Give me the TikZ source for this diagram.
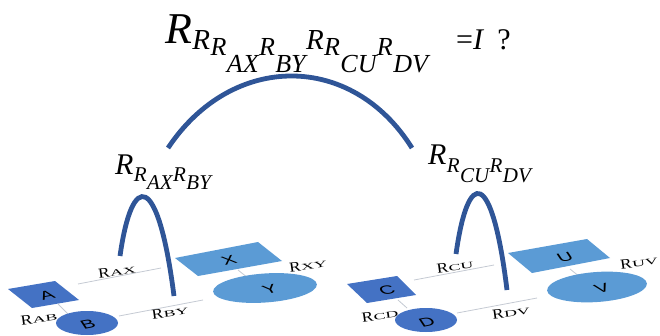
\documentclass[tikz,border=0pt]{standalone}
\usepackage{graphicx}
\usepackage{fontspec}
\setmainfont{Liberation Serif}
\newfontfamily\lsans{Liberation Sans}
\definecolor{arccol}{HTML}{2F5597}
\definecolor{dkcol}{HTML}{4472C4}
\definecolor{ltcol}{HTML}{5B9BD5}
\definecolor{lncol}{HTML}{C5CAD3}
\newcommand\Rlb[1]{\scalebox{1.25}[1]{R\scalebox{1.6}[1]{\fontsize{9}{9}\selectfont #1}}}
\begin{document}
\begin{tikzpicture}[x=1pt,y=-1pt,
  arcline/.style={draw=arccol, line width=4.8pt},
  relline/.style={draw=lncol, line width=0.8pt},
  rlab/.style={font=\fontsize{14}{14}\selectfont, inner sep=0pt, rotate=8},
  tt/.style={inner sep=0pt, anchor=base west},
  big/.style={tt, font=\fontsize{44}{44}\selectfont\itshape},
  sub/.style={tt, font=\fontsize{29}{29}\selectfont\itshape},
  subb/.style={tt, font=\fontsize{26}{26}\selectfont\itshape},
  mid/.style={tt, font=\fontsize{30}{30}\selectfont\itshape},
  msub/.style={tt, font=\fontsize{21}{21}\selectfont\itshape},
  letter/.style={font=\lsans\fontsize{19}{19}\selectfont, inner sep=0pt, cm={1.05,0.2,-0.4,0.6,(0,0)}}
]
\useasboundingbox (0,0) rectangle (660,336);

% relation lines
\coordinate (ax1) at (78,284);  \coordinate (ax2) at (161,268);
\coordinate (by1) at (119,316); \coordinate (by2) at (203,300);
\coordinate (ab1) at (58,304);  \coordinate (ab2) at (68,314);
\coordinate (xy1) at (238,270); \coordinate (xy2) at (248,278);
\coordinate (cu1) at (414,280); \coordinate (cu2) at (494,265);
\coordinate (dv1) at (457,313); \coordinate (dv2) at (537,298);
\coordinate (cd1) at (398,300); \coordinate (cd2) at (407,308);
\coordinate (uv1) at (570,269); \coordinate (uv2) at (580,277);
\foreach \p in {ax,by,ab,xy,cu,dv,cd,uv} \draw[relline] (\p1) -- (\p2);

% relation labels
\node[rlab] (lAX) at (117,271) {\Rlb{AX}};
\node[rlab] (lBY) at (170,312) {\Rlb{BY}};
\node[rlab] (lAB) at (39,318) {\Rlb{AB}};
\node[rlab] (lXY) at (308,265) {\Rlb{XY}};
\node[rlab] (lCU) at (455,266) {\Rlb{CU}};
\node[rlab] (lDV) at (511,312) {\Rlb{DV}};
\node[rlab] (lCD) at (380,315) {\Rlb{CD}};
\node[rlab] (lUV) at (639,262) {\Rlb{UV}};

% shapes
\fill[dkcol] (8,289) -- (55,281) -- (79,300) -- (32,308) -- cycle;
\fill[dkcol] (87,323) ellipse [x radius=31pt, y radius=12pt];
\fill[ltcol] (175,258) -- (258,242) -- (282,261) -- (198,276) -- cycle;
\fill[ltcol, rotate around={4:(265,288)}] (265,288) ellipse [x radius=52pt, y radius=14.5pt];
\fill[dkcol] (347,284) -- (397,276) -- (416,295) -- (367,303) -- cycle;
\fill[dkcol] (426,320) ellipse [x radius=31pt, y radius=12pt];
\fill[ltcol] (508,253) -- (587,239) -- (610,258) -- (532,273) -- cycle;
\fill[ltcol, rotate around={4:(597,287)}] (597,287) ellipse [x radius=50pt, y radius=15pt];

% letters
\begin{scope}[shift={(47,295)}]\node[letter] (A) {A};\end{scope}
\begin{scope}[shift={(88,324)}]\node[letter] (B) {B};\end{scope}
\begin{scope}[shift={(229,260)}]\node[letter] (X) {X};\end{scope}
\begin{scope}[shift={(270,289)}]\node[letter] (Y) {Y};\end{scope}
\begin{scope}[shift={(387,290)}]\node[letter] (C) {C};\end{scope}
\begin{scope}[shift={(427,322)}]\node[letter] (D) {D};\end{scope}
\begin{scope}[shift={(565,257)}]\node[letter] (U) {U};\end{scope}
\begin{scope}[shift={(602,288)}]\node[letter] (V) {V};\end{scope}

% title
\node[big] (t0) at (165,44) {R};
\node[sub] (t1) at ([yshift=-6pt]t0.base east) {R};
\node[subb] (t2) at ([yshift=-6pt]t1.base east) {R};
\node[subb] (t3) at ([yshift=-17pt]t2.base east) {AX};
\node[subb] (t4) at ([yshift=17pt]t3.base east) {R};
\node[subb] (t5) at ([yshift=-17pt]t4.base east) {BY};
\node[sub] (t6) at ([yshift=23pt]t5.base east) {R};
\node[subb] (t7) at ([yshift=-6pt]t6.base east) {R};
\node[subb] (t8) at ([yshift=-17pt]t7.base east) {CU};
\node[subb] (t9) at ([yshift=17pt]t8.base east) {R};
\node[subb] (t10) at ([yshift=-17pt]t9.base east) {DV};
\node[tt, font=\fontsize{30}{30}\selectfont] (eq) at (456,50) {=\textit{I}\hspace{13pt}?};

% subtree labels
\node[mid] (l0) at (115,175) {R};
\node[msub] (l1) at ([yshift=-7pt]l0.base east) {R};
\node[msub] (l2) at ([yshift=-8pt]l1.base east) {AX};
\node[msub] (l3) at ([yshift=8pt]l2.base east) {R};
\node[msub] (l4) at ([yshift=-8pt]l3.base east) {BY};

\node[mid] (r0) at (428,165) {R};
\node[msub] (r1) at ([yshift=-8pt]r0.base east) {R};
\node[msub] (r2) at ([yshift=-10pt]r1.base east) {CU};
\node[msub] (r3) at ([yshift=10pt]r2.base east) {R};
\node[msub] (r4) at ([yshift=-10pt]r3.base east) {DV};

% arcs
\coordinate (bigL) at (168,148); \coordinate (bigR) at (412,148);
\coordinate (smLa) at (120,256); \coordinate (smLb) at (174,296);
\coordinate (smRa) at (456,254); \coordinate (smRb) at (507,290);
\draw[arcline] (bigL) .. controls (232,52) and (352,52) .. (bigR);
\draw[arcline] (smLa) .. controls (132,171) and (158,171) .. (smLb);
\draw[arcline] (smRa) .. controls (468,168) and (492,168) .. (smRb);
\end{tikzpicture}
\end{document}
